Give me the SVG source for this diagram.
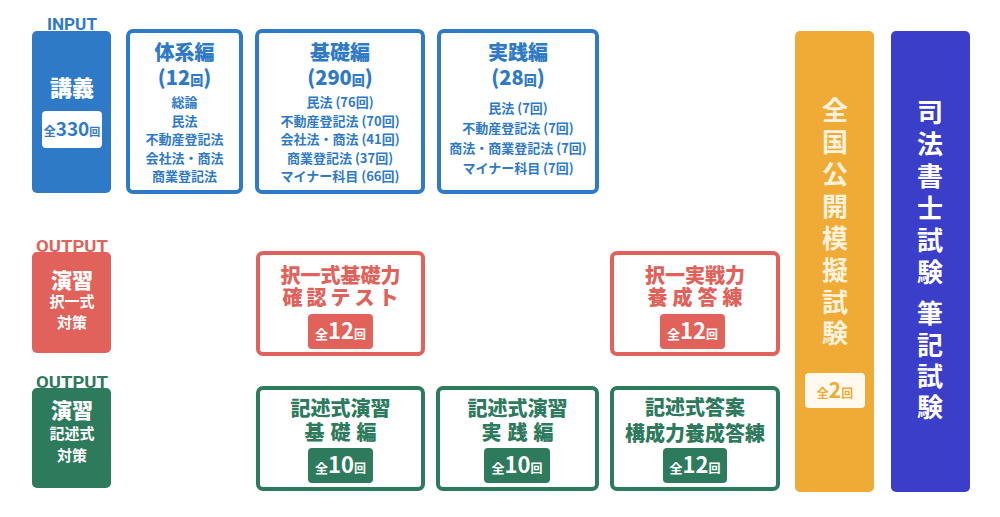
<svg xmlns="http://www.w3.org/2000/svg" width="1000" height="517" viewBox="0 0 1000 517">
<style>
.jp{font-family:"Noto Sans CJK JP","Noto Sans",sans-serif;font-weight:700;text-anchor:middle}
.hv{font-weight:900}
.lbl{font-family:Roboto,"Liberation Sans",sans-serif;font-weight:700;text-anchor:middle;font-size:17px}
.b{fill:#2f7ac6}.r{fill:#e0625a}.g{fill:#2d7a5c}.o{fill:#f0aa36}.p{fill:#3a3ec8}.w{fill:#ffffff}
.bs{fill:#ffffff;stroke:#2f7ac6;stroke-width:4}
.rs{fill:#ffffff;stroke:#e0625a;stroke-width:4}
.gs{fill:#ffffff;stroke:#2d7a5c;stroke-width:4}
.t20{font-size:20px}.t13{font-size:13px}.t15{font-size:15px}
.vt{font-size:26px;fill:#fdf3dc}
</style>
<rect width="1000" height="517" fill="#ffffff"/>

<g id="node-kogi">
<text class="lbl b" x="72" y="30" textLength="50" lengthAdjust="spacingAndGlyphs">INPUT</text>
<rect class="b" x="32" y="31" width="79" height="162" rx="5"/>
<text class="jp hv w" x="72" y="96" font-size="22">講義</text>
<rect class="w" x="42" y="111" width="60" height="37" rx="4"/>
<text class="jp b" x="72" y="136"><tspan font-size="12">全</tspan><tspan font-size="19">330</tspan><tspan font-size="11">回</tspan></text>
</g>

<g id="node-taikei">
<rect class="bs" x="128" y="31" width="113" height="161" rx="5"/>
<text class="jp hv b t20" x="184.5" y="60">体系編</text>
<text class="jp hv b t20" x="184.5" y="85">(12<tspan font-size="13">回</tspan>)</text>
<text class="jp b t13" x="184.5" y="107">総論</text>
<text class="jp b t13" x="184.5" y="125.5">民法</text>
<text class="jp b t13" x="184.5" y="144">不動産登記法</text>
<text class="jp b t13" x="184.5" y="162.5">会社法・商法</text>
<text class="jp b t13" x="184.5" y="181">商業登記法</text>
</g>

<g id="node-kiso">
<rect class="bs" x="257" y="31" width="166" height="161" rx="5"/>
<text class="jp hv b t20" x="340" y="60">基礎編</text>
<text class="jp hv b t20" x="340" y="85">(290<tspan font-size="13">回</tspan>)</text>
<text class="jp b t13" x="340" y="107">民法 (76回)</text>
<text class="jp b t13" x="340" y="125.5">不動産登記法 (70回)</text>
<text class="jp b t13" x="340" y="144">会社法・商法 (41回)</text>
<text class="jp b t13" x="340" y="162.5">商業登記法 (37回)</text>
<text class="jp b t13" x="340" y="181">マイナー科目 (66回)</text>
</g>

<g id="node-jissen">
<rect class="bs" x="439" y="31" width="158" height="161" rx="5"/>
<text class="jp hv b t20" x="518" y="60">実践編</text>
<text class="jp hv b t20" x="518" y="85">(28<tspan font-size="13">回</tspan>)</text>
<text class="jp b t13" x="518" y="113">民法 (7回)</text>
<text class="jp b t13" x="518" y="133">不動産登記法 (7回)</text>
<text class="jp b t13" x="518" y="153">商法・商業登記法 (7回)</text>
<text class="jp b t13" x="518" y="173">マイナー科目 (7回)</text>
</g>

<g id="node-enshu-takuitsu">
<text class="lbl r" x="72" y="252" textLength="72" lengthAdjust="spacingAndGlyphs">OUTPUT</text>
<rect class="r" x="32" y="252" width="79" height="101" rx="5"/>
<text class="jp hv w" x="72" y="288" font-size="21">演習</text>
<text class="jp w t15" x="72" y="307">択一式</text>
<text class="jp w t15" x="72" y="328">対策</text>
</g>

<g id="node-takuitsu-kiso">
<rect class="rs" x="258" y="253" width="165" height="101" rx="5"/>
<text class="jp hv r t20" x="340.5" y="283">択一式基礎力</text>
<text class="jp hv r t20" x="342.5" y="305" letter-spacing="4">確認テスト</text>
<rect class="r" x="308" y="314" width="65" height="35" rx="4"/>
<text class="jp w" x="340.5" y="339"><tspan font-size="13">全</tspan><tspan font-size="22">12</tspan><tspan font-size="12">回</tspan></text>
</g>

<g id="node-takuitsu-jissen">
<rect class="rs" x="612" y="253" width="166" height="101" rx="5"/>
<text class="jp hv r t20" x="695" y="283">択一実戦力</text>
<text class="jp hv r t20" x="697.5" y="305" letter-spacing="5">養成答練</text>
<rect class="r" x="660" y="314" width="65" height="35" rx="4"/>
<text class="jp w" x="692.5" y="339"><tspan font-size="13">全</tspan><tspan font-size="22">12</tspan><tspan font-size="12">回</tspan></text>
</g>

<g id="node-enshu-kijutsu">
<text class="lbl g" x="72" y="388" textLength="72" lengthAdjust="spacingAndGlyphs">OUTPUT</text>
<rect class="g" x="32" y="388" width="79" height="100" rx="5"/>
<text class="jp hv w" x="72" y="418" font-size="21">演習</text>
<text class="jp w t15" x="72" y="439">記述式</text>
<text class="jp w t15" x="72" y="461">対策</text>
</g>

<g id="node-kijutsu-kiso">
<rect class="gs" x="258" y="388" width="165" height="101" rx="5"/>
<text class="jp hv g t20" x="340.5" y="416">記述式演習</text>
<text class="jp hv g t20" x="343.5" y="440" letter-spacing="6">基礎編</text>
<rect class="g" x="308" y="448" width="65" height="35" rx="4"/>
<text class="jp w" x="340.5" y="473"><tspan font-size="13">全</tspan><tspan font-size="22">10</tspan><tspan font-size="12">回</tspan></text>
</g>

<g id="node-kijutsu-jissen">
<rect class="gs" x="438" y="388" width="159" height="101" rx="5"/>
<text class="jp hv g t20" x="517.5" y="416">記述式演習</text>
<text class="jp hv g t20" x="520.5" y="440" letter-spacing="6">実践編</text>
<rect class="g" x="484" y="448" width="66" height="35" rx="4"/>
<text class="jp w" x="517" y="473"><tspan font-size="13">全</tspan><tspan font-size="22">10</tspan><tspan font-size="12">回</tspan></text>
</g>

<g id="node-kijutsu-toan">
<rect class="gs" x="612" y="388" width="166" height="101" rx="5"/>
<text class="jp hv g t20" x="695" y="415">記述式答案</text>
<text class="jp hv g t20" x="695" y="441">構成力養成答練</text>
<rect class="g" x="663" y="448" width="64" height="35" rx="4"/>
<text class="jp w" x="695" y="473"><tspan font-size="13">全</tspan><tspan font-size="22">12</tspan><tspan font-size="12">回</tspan></text>
</g>

<g id="node-moshi">
<rect class="o" x="795" y="31" width="79" height="461" rx="5"/>
<text class="jp vt" x="835"><tspan x="835" y="120">全</tspan><tspan x="835" y="152">国</tspan><tspan x="835" y="184">公</tspan><tspan x="835" y="216">開</tspan><tspan x="835" y="248">模</tspan><tspan x="835" y="280">擬</tspan><tspan x="835" y="312">試</tspan><tspan x="835" y="343">験</tspan></text>
<rect fill="#fffaf0" x="805" y="373" width="60" height="35" rx="4"/>
<text class="jp o" x="835" y="398"><tspan font-size="12">全</tspan><tspan font-size="21">2</tspan><tspan font-size="12">回</tspan></text>
</g>

<g id="node-shiken">
<rect class="p" x="891" y="31" width="79" height="461" rx="5"/>
<text class="jp vt" x="930" style="fill:#ffffff"><tspan x="930" y="122">司</tspan><tspan x="930" y="154">法</tspan><tspan x="930" y="186">書</tspan><tspan x="930" y="218">士</tspan><tspan x="930" y="250">試</tspan><tspan x="930" y="282">験</tspan><tspan x="930" y="323">筆</tspan><tspan x="930" y="355">記</tspan><tspan x="930" y="386">試</tspan><tspan x="930" y="417">験</tspan></text>
</g>

<g id="connectors"/>
</svg>
